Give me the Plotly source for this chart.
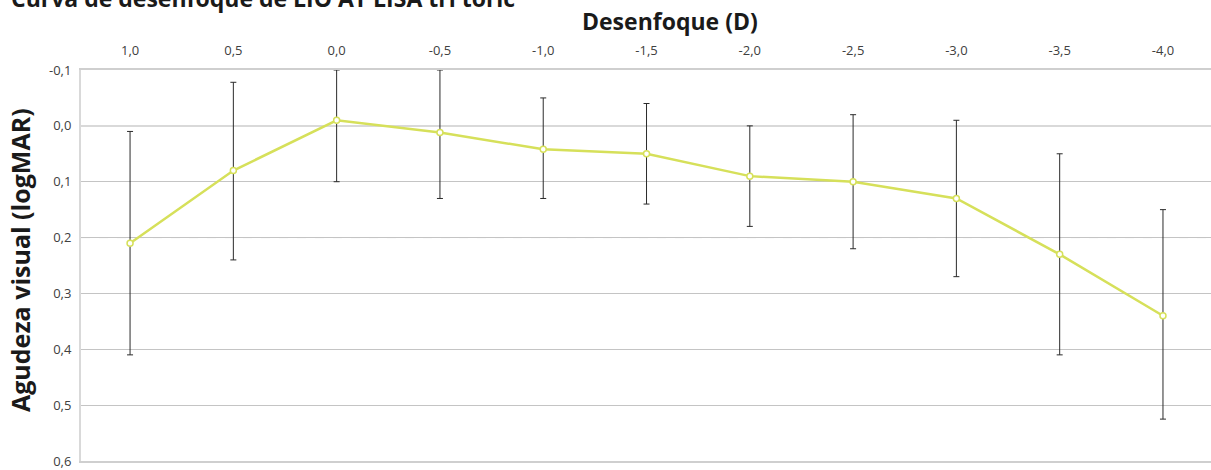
import plotly.graph_objects as go

# Defocus curve: mean visual acuity (logMAR) with dispersion bars
defocus_labels = ["1,0", "0,5", "0,0", "-0,5", "-1,0", "-1,5", "-2,0", "-2,5", "-3,0", "-3,5", "-4,0"]
va_mean = [0.21, 0.08, -0.01, 0.012, 0.042, 0.05, 0.09, 0.10, 0.13, 0.23, 0.34]
va_bar_top = [0.01, -0.078, -0.10, -0.10, -0.05, -0.04, 0.0, -0.02, -0.01, 0.05, 0.15]
va_bar_bottom = [0.41, 0.24, 0.10, 0.13, 0.13, 0.14, 0.18, 0.22, 0.27, 0.41, 0.525]
y_ticks = [-0.1, 0.0, 0.1, 0.2, 0.3, 0.4, 0.5, 0.6]
y_tick_text = ["-0,1", "0,0", "0,1", "0,2", "0,3", "0,4", "0,5", "0,6"]
reference_va = 0.2

err_down = [b - m for b, m in zip(va_bar_bottom, va_mean)]
err_up = [m - t for m, t in zip(va_mean, va_bar_top)]

LINE_COLOR = "#d6e05a"
FONT = "Open Sans"

fig = go.Figure()

fig.add_hline(y=reference_va, line=dict(color="#bdbdbd", width=1, dash="dash"), layer="below")

fig.add_trace(go.Scatter(
    x=defocus_labels,
    y=va_mean,
    mode="lines+markers",
    line=dict(color=LINE_COLOR, width=2.5),
    marker=dict(symbol="circle", size=6, color="white", line=dict(color=LINE_COLOR, width=1.5)),
    error_y=dict(type="data", symmetric=False, array=err_down, arrayminus=err_up,
                 color="#2b2b2b", thickness=1, width=3),
    showlegend=False,
    cliponaxis=False,
))

fig.update_layout(
    width=1211,
    height=470,
    margin=dict(l=81, r=0, t=70, b=9),
    paper_bgcolor="white",
    plot_bgcolor="white",
    font=dict(family=FONT, color="#404040", size=13),
    xaxis=dict(
        type="category",
        side="top",
        range=[-0.475, 10.465],
        showgrid=False,
        showline=True,
        mirror=True,
        linecolor="#cfcfcf",
        linewidth=1.5,
        ticks="",
        ticklabelstandoff=8,
        tickfont=dict(family=FONT, size=13, color="#404040"),
        zeroline=False,
    ),
    yaxis=dict(
        range=[0.6, -0.1],
        tickvals=y_ticks,
        ticktext=y_tick_text,
        showgrid=True,
        gridcolor="#c4c4c4",
        gridwidth=1,
        zeroline=True,
        zerolinecolor="#d9d9d9",
        zerolinewidth=2,
        showline=True,
        linecolor="#d9d9d9",
        linewidth=2,
        mirror=False,
        ticks="",
        ticklabelstandoff=5,
        tickfont=dict(family=FONT, size=13, color="#404040"),
    ),
    annotations=[
        dict(text="<b>Curva de desenfoque de LIO AT LISA tri toric</b>",
             xref="paper", yref="paper", x=-0.064, y=1.138,
             xanchor="left", yanchor="bottom", showarrow=False,
             font=dict(family=FONT, size=23, color="#1a1a1a")),
        dict(text="<b>Desenfoque (D)</b>",
             xref="paper", yref="paper", x=(670 - 81) / 1130, y=1 + (70 - 21) / 391,
             xanchor="center", yanchor="middle", showarrow=False,
             font=dict(family=FONT, size=23, color="#1a1a1a")),
        dict(text="<b>Agudeza visual (logMAR)</b>",
             xref="paper", yref="paper", x=(20 - 81) / 1130, y=1 - (260 - 70) / 391,
             xanchor="center", yanchor="middle", textangle=-90, showarrow=False,
             font=dict(family=FONT, size=25, color="#1a1a1a")),
    ],
)

fig.write_html("out.html")
